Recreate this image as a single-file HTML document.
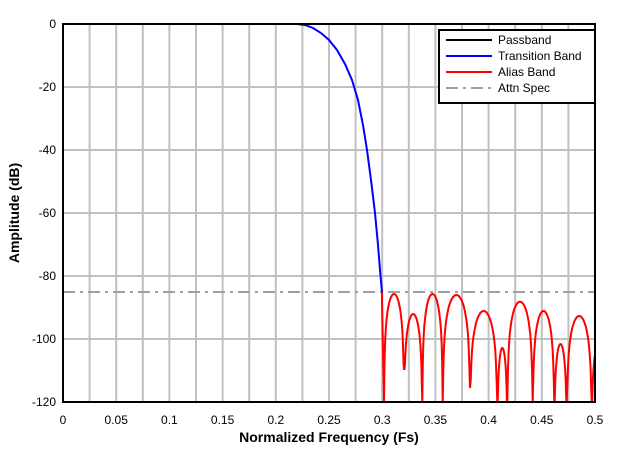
<!DOCTYPE html>
<html><head><meta charset="utf-8"><style>
body{margin:0;background:#fff;}
svg{display:block;font-family:"Liberation Sans",Arial,sans-serif;}
</style></head><body>
<svg id="s" width="621" height="454" xmlns="http://www.w3.org/2000/svg">
<g id="grid" stroke="#c0c0c0" stroke-width="2"></g>
<line x1="63" y1="292" x2="595" y2="292" stroke="#a0a0a0" stroke-width="2" stroke-dasharray="12,5,3,5"/>
<polyline fill="none" stroke="#0000ff" stroke-width="2" points="292,24 297,24 305,25 313,28 321,33 329,40 337,50 345,64 352,80 358,100 363,125 367,150 371,180 375,213 378,245 380,270 382,292"/>
<path id="alias" fill="none" stroke="#ff0000" stroke-width="2"/>
<rect x="63" y="24" width="532" height="378" fill="none" stroke="#000" stroke-width="2"/>
<g id="lab" font-size="12" fill="#000"></g>
<text x="329" y="442" font-size="14" font-weight="bold" text-anchor="middle">Normalized Frequency (Fs)</text>
<text transform="translate(19,213) rotate(-90)" font-size="14" font-weight="bold" text-anchor="middle">Amplitude (dB)</text>
<rect x="439" y="30" width="156" height="73" fill="#fff" stroke="#000" stroke-width="2"/>
<g font-size="12">
<line x1="446" y1="40" x2="492" y2="40" stroke="#000" stroke-width="2"/><text x="498" y="44">Passband</text>
<line x1="446" y1="56" x2="492" y2="56" stroke="#0000ff" stroke-width="2"/><text x="498" y="60">Transition Band</text>
<line x1="446" y1="72" x2="492" y2="72" stroke="#ff0000" stroke-width="2"/><text x="498" y="76">Alias Band</text>
<line x1="446" y1="88" x2="492" y2="88" stroke="#a0a0a0" stroke-width="2" stroke-dasharray="12,5,3,5"/><text x="498" y="92">Attn Spec</text>
</g>
</svg>
<script>
var NS="http://www.w3.org/2000/svg";
var g=document.getElementById('grid'),lab=document.getElementById('lab');
function el(p,t,a,txt){var e=document.createElementNS(NS,t);for(var k in a)e.setAttribute(k,a[k]);if(txt!=null)e.textContent=txt;p.appendChild(e);}
for(var i=1;i<20;i++){var x=63+i*532/20;el(g,'line',{x1:x,y1:24,x2:x,y2:402});}
for(var j=1;j<6;j++){var y=24+j*63;el(g,'line',{x1:63,y1:y,x2:595,y2:y});}
var xl=['0','0.05','0.1','0.15','0.2','0.25','0.3','0.35','0.4','0.45','0.5'];
for(var i=0;i<=10;i++)el(lab,'text',{x:63+i*53.2,y:424,'text-anchor':'middle'},xl[i]);
for(var j=0;j<=6;j++)el(lab,'text',{x:56,y:28+j*63,'text-anchor':'end'},j==0?'0':'-'+(j*20));
// lobes: [xa,ya,xb,yb,peakY]
var L=[[384,402,404,369,294],[404,369,422.3,402,314],[422.3,402,442.7,402,294],[442.7,402,470,388,295],[470,388,497.3,402,311],[497.3,402,507.3,402,348],[507.3,402,532.7,402,301.7],[532.7,402,554.3,402,311],[554.3,402,566.7,402,344],[566.7,402,591.7,402,316],[591.7,402,608,402,340]];
var d="M382,292 L382,300 L384,402";
L.forEach(function(l){var N=40;for(var k=1;k<=N;k++){var t=k/N,x=l[0]+(l[2]-l[0])*t;if(x>595)break;
var s=Math.sin(Math.PI*t);var y=l[4]-20*Math.log10(Math.max(s,1e-6))*3.15;
var lim=t<0.5?l[1]:l[3];if(y>lim)y=lim;d+=" L"+x.toFixed(1)+","+y.toFixed(1);}});
document.getElementById('alias').setAttribute('d',d);
</script>
</body></html>
